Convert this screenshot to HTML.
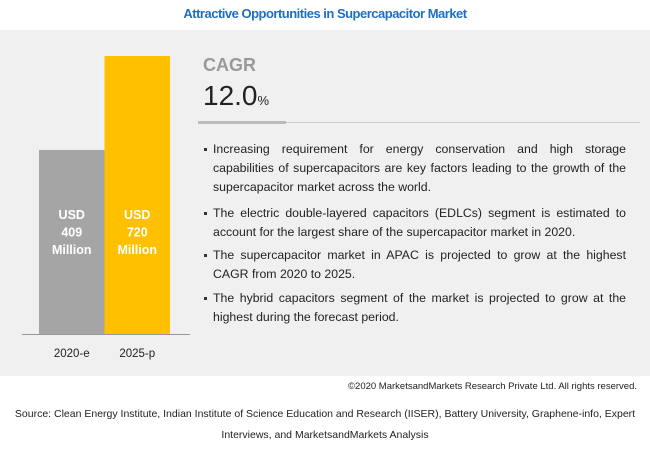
<!DOCTYPE html>
<html><head><meta charset="utf-8"><style>
body{margin:0;width:650px;height:449px;background:#fff;font-family:"Liberation Sans",sans-serif;position:relative;overflow:hidden}
.abs{position:absolute}
#title{left:0;width:650px;top:6px;text-align:center;color:#1f6fc1;font-weight:bold;font-size:13px;letter-spacing:-0.5px}
#panel{left:0;top:30px;width:650px;height:346px;background:#f0f0f0}
.bl{position:absolute;left:213px;width:413px;font-size:12.3px;line-height:19px;color:#222;text-align:justify;text-align-last:left}
.bl:before{content:"";position:absolute;left:-9px;top:8px;width:3px;height:3px;background:#333}
</style></head><body>
<div class="abs" id="title">Attractive Opportunities in Supercapacitor Market</div>
<div class="abs" id="panel"></div>
<svg class="abs" style="left:0;top:0" width="650" height="449" id="chart"></svg>
<div class="abs" style="left:203px;top:55px;font-size:18px;font-weight:bold;color:#999">CAGR</div>
<div class="abs" style="left:203px;top:80px;font-size:28px;color:#222">12.0<span style="font-size:13px">%</span></div>
<div class="abs" style="left:198px;top:122px;width:442px;height:1px;background:#ccc"></div>
<div class="abs" style="left:198px;top:121px;width:88px;height:3px;background:#bbb"></div>
<div class="bl" style="top:140px">Increasing requirement for energy conservation and high storage capabilities of supercapacitors are key factors leading to the growth of the supercapacitor market across the world.</div>
<div class="bl" style="top:204px">The electric double-layered capacitors (EDLCs) segment is estimated to account for the largest share of the supercapacitor market in 2020.</div>
<div class="bl" style="top:246px">The supercapacitor market in APAC is projected to grow at the highest CAGR from 2020 to 2025.</div>
<div class="bl" style="top:289px">The hybrid capacitors segment of the market is projected to grow at the highest during the forecast period.</div>
<div class="abs" style="right:13px;top:381px;font-size:9.5px;color:#222">©2020 MarketsandMarkets Research Private Ltd. All rights reserved.</div>
<div class="abs" style="left:0;width:650px;top:404px;text-align:center;font-size:10.5px;line-height:21px;color:#222">Source: Clean Energy Institute, Indian Institute of Science Education and Research (IISER), Battery University, Graphene-info, Expert<br>Interviews, and MarketsandMarkets Analysis</div>
<script>
const categories=["2020-e","2025-p"];
const values=[409,720];
const valueLabels=["409","720"];
const colors=["#a5a5a5","#ffc000"];
const svg=document.getElementById('chart');
const NS='http://www.w3.org/2000/svg';
const base=334,x0=39,bw=65.5;
function yScale(v){return base-(v+200)/920*278;}
function mk(t,a){const e=document.createElementNS(NS,t);for(const k in a)e.setAttribute(k,a[k]);svg.appendChild(e);return e;}
categories.forEach((c,i)=>{
  const x=x0+i*bw,y=yScale(values[i]);
  const r=mk('rect',{x:x,y:y,width:bw,height:base-y,fill:colors[i]});
  
  
  ["USD",valueLabels[i],"Million"].forEach((s,j)=>{
    const t=mk('text',{x:x+bw/2,y:219+j*17.5,'text-anchor':'middle','font-size':'12.5','font-weight':'bold',fill:'#fff','font-family':'Liberation Sans, sans-serif'});
    t.textContent=s;
    
    
  });
  const l=mk('text',{x:x+bw/2,y:357,'text-anchor':'middle','font-size':'11.5',fill:'#222','font-family':'Liberation Sans, sans-serif'});
  l.textContent=c;
  
  
});
const ax=mk('line',{x1:22,x2:190,y1:base+0.5,y2:base+0.5,stroke:'#999','stroke-width':1});


</script>
</body></html>
